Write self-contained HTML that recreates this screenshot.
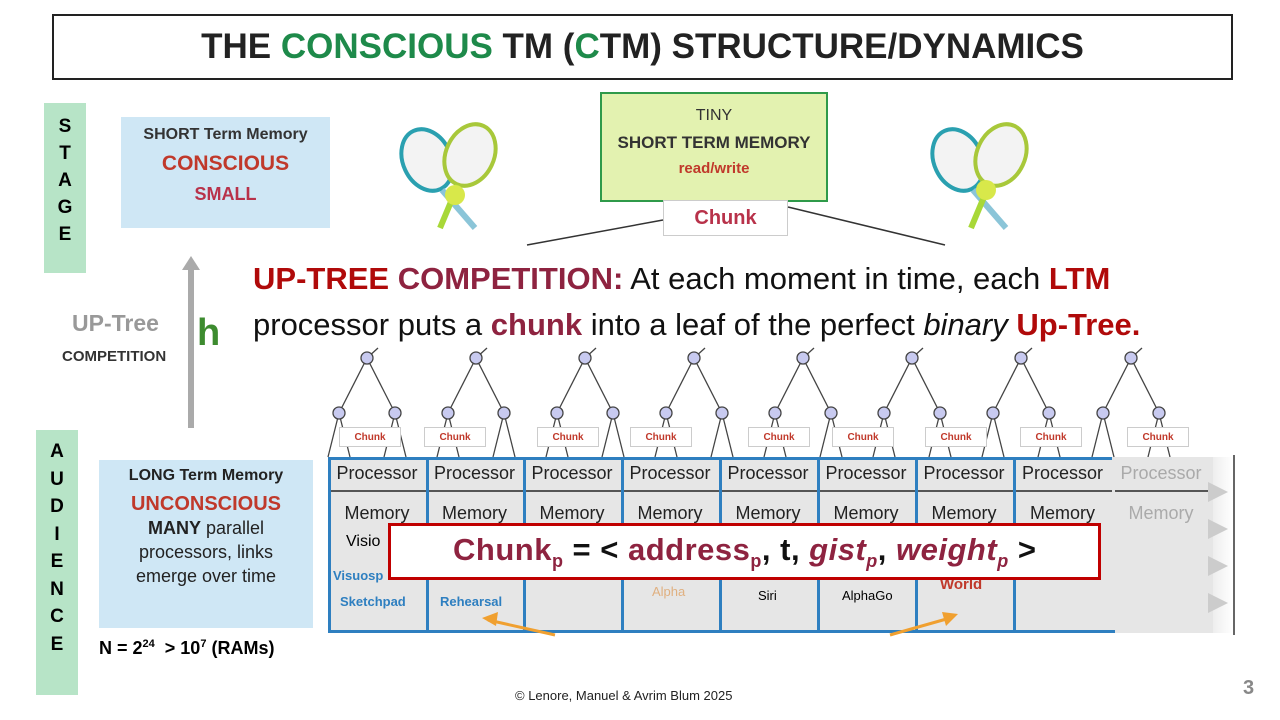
<!DOCTYPE html>
<html><head><meta charset="utf-8"><style>
*{margin:0;padding:0;box-sizing:border-box}
body{width:1280px;height:720px;background:#fff;position:relative;overflow:hidden;font-family:"Liberation Sans","DejaVu Sans",sans-serif}
.a{position:absolute}
.c{text-align:center}
.b{font-weight:bold}
.red{color:#c0392b}
.mar{color:#8e2340}
.dred{color:#b00a0a}
</style></head><body>
<div class="a c b" style="left:52px;top:14px;width:1181px;height:66px;border:2px solid #222;font-size:35px;line-height:62px;color:#222">THE <span style="color:#1e8a4a">CONSCIOUS</span> TM (<span style="color:#1e8a4a">C</span>TM) STRUCTURE/DYNAMICS</div>

<div class="a c b" style="left:44px;top:103px;width:42px;height:170px;background:#b7e4c7;font-size:19px;line-height:27px;padding-top:10px">S<br>T<br>A<br>G<br>E</div>
<div class="a c b" style="left:36px;top:430px;width:42px;height:265px;background:#b7e4c7;font-size:19px;line-height:27.5px;padding-top:8px">A<br>U<br>D<br>I<br>E<br>N<br>C<br>E</div>

<div class="a c b" style="left:121px;top:117px;width:209px;height:111px;background:#cfe7f5">
<div style="font-size:16px;color:#333;margin-top:9px">SHORT Term Memory</div>
<div class="red" style="font-size:21px;margin-top:8px">CONSCIOUS</div>
<div class="red" style="font-size:18px;margin-top:8px;color:#b8324a">SMALL</div></div>

<div class="a c" style="left:99px;top:460px;width:214px;height:168px;background:#cfe7f5;font-size:18px;color:#222;line-height:24px">
<div class="b" style="font-size:16px;margin-top:4px">LONG Term Memory</div>
<div class="b red" style="font-size:20px;margin-top:4px">UNCONSCIOUS</div>
<div><b>MANY</b> parallel</div><div>processors, links</div><div>emerge over time</div></div>
<div class="a b" style="left:99px;top:638px;font-size:18px">N = 2<sup style="font-size:11px">24</sup>&nbsp; &gt; 10<sup style="font-size:11px">7</sup> (RAMs)</div>

<div class="a b" style="left:72px;top:310px;font-size:23px;color:#999">UP-Tree</div>
<div class="a b" style="left:62px;top:348px;font-size:15px;color:#333">COMPETITION</div>
<div class="a" style="left:188px;top:268px;width:6px;height:160px;background:#aaa"></div>
<div class="a" style="left:182px;top:256px;width:0;height:0;border-left:9px solid transparent;border-right:9px solid transparent;border-bottom:14px solid #aaa"></div>
<div class="a b" style="left:197px;top:312px;font-size:38px;color:#3d8b2f">h</div>

<div class="a c" style="left:600px;top:92px;width:228px;height:110px;background:#e3f2b0;border:2px solid #2f9a4a;line-height:1">
<div style="font-size:16px;margin-top:14px;color:#333">TINY</div>
<div class="b" style="font-size:17px;margin-top:10px;color:#333">SHORT TERM MEMORY</div>
<div class="b red" style="font-size:15px;margin-top:10px">read/write</div></div>
<div class="a c b" style="left:663px;top:200px;width:125px;height:36px;background:#fff;border:1px solid #ccc;font-size:20px;line-height:34px;color:#b8324a">Chunk</div>

<svg class="a" style="left:0;top:0" width="1280" height="720">
<line x1="663" y1="220" x2="527" y2="245" stroke="#333" stroke-width="1.5"/>
<line x1="788" y1="207" x2="945" y2="245" stroke="#333" stroke-width="1.5"/>
<g stroke-width="4" fill="#f3f3f3">
<ellipse cx="427" cy="160" rx="24" ry="32" transform="rotate(-25 427 160)" stroke="#2aa0b0"/>
<ellipse cx="470" cy="155" rx="24" ry="32" transform="rotate(25 470 155)" stroke="#a8c83a"/>
<line x1="442" y1="190" x2="475" y2="228" stroke="#8bc5d8" stroke-width="6"/>
<line x1="458" y1="185" x2="440" y2="228" stroke="#a8d838" stroke-width="6"/>
<circle cx="455" cy="195" r="10" fill="#d8e84a" stroke="none"/>
<ellipse cx="958" cy="160" rx="24" ry="32" transform="rotate(-25 958 160)" stroke="#2aa0b0"/>
<ellipse cx="1001" cy="155" rx="24" ry="32" transform="rotate(25 1001 155)" stroke="#a8c83a"/>
<line x1="973" y1="190" x2="1006" y2="228" stroke="#8bc5d8" stroke-width="6"/>
<line x1="989" y1="185" x2="971" y2="228" stroke="#a8d838" stroke-width="6"/>
<circle cx="986" cy="190" r="10" fill="#d8e84a" stroke="none"/>
</g>
<g stroke="#444" stroke-width="1.3" fill="#c8caf0">
<g id="t">
<line x1="367" y1="358" x2="378" y2="348"/>
<line x1="367" y1="358" x2="339" y2="413"/><line x1="367" y1="358" x2="395" y2="413"/>
<line x1="339" y1="413" x2="328" y2="457"/><line x1="339" y1="413" x2="350" y2="457"/>
<line x1="395" y1="413" x2="384" y2="457"/><line x1="395" y1="413" x2="406" y2="457"/>
<circle cx="367" cy="358" r="6"/><circle cx="339" cy="413" r="6"/><circle cx="395" cy="413" r="6"/>
</g>
<use href="#t" x="109"/><use href="#t" x="218"/><use href="#t" x="327"/><use href="#t" x="436"/><use href="#t" x="545"/><use href="#t" x="654"/><use href="#t" x="764"/>
</g>
</svg>

<div class="a" style="left:253px;top:256px;font-size:31px;line-height:46px;color:#111;white-space:nowrap"><b class="dred">UP-TREE </b><b class="mar">COMPETITION:</b> At each moment in time, each <b class="dred">LTM</b><br>processor puts a <b class="mar">chunk</b> into a leaf of the perfect <i>binary</i> <b class="dred">Up-Tree.</b></div>

<div class="a" style="left:328px;top:457px;width:885px;height:176px;background:#e6e6e6"></div>
<div class="a" style="left:1213px;top:457px;width:20px;height:176px;background:linear-gradient(90deg,#eee,#fff)"></div>
<div class="a" style="left:1233px;top:455px;width:2px;height:180px;background:#666"></div>
<div id="cols"></div>
<div class="a" style="left:388px;top:523px;width:713px;height:57px;background:#fff;border:3px solid #c00000"></div>
<div class="a b" style="left:453px;top:532px;font-size:31px;color:#111;white-space:nowrap;letter-spacing:0.5px"><span class="mar">Chunk<sub style="font-size:18px">p</sub></span> = &lt; <span class="mar">address<sub style="font-size:18px">p</sub></span>, t, <i class="mar">gist<sub style="font-size:18px">p</sub></i>, <i class="mar">weight<sub style="font-size:18px">p</sub></i> &gt;</div>

<div class="a" style="left:515px;top:688px;font-size:13px;color:#222">© Lenore, Manuel &amp; Avrim Blum 2025</div>
<div class="a b" style="left:1243px;top:677px;font-size:20px;color:#888">3</div>
<script>
var xs=[328,426,523,621,719,817,915,1013,1112],h='';
var leafx=[339,424,537,630,748,832,925,1020,1127];
for(var i=0;i<9;i++){var x=xs[i],w=(i<8?xs[i+1]:1210)-x,f=i==8;
h+='<div class="a" style="left:'+leafx[i]+'px;top:427px;width:62px;height:20px;background:#fff;border:1px solid #ccc;font-size:10px;font-weight:bold;color:#c0392b;text-align:center;line-height:19px">Chunk</div>';
h+='<div class="a" style="left:'+x+'px;top:457px;width:'+w+'px;height:176px;border:'+(f?'0':'3px solid #2e7fc0')+';border-right:0"></div>';
h+='<div class="a" style="left:'+(x+3)+'px;top:490px;width:'+(w-3)+'px;height:2px;background:#555"></div>';
h+='<div class="a" style="left:'+x+'px;top:463px;width:'+w+'px;text-align:center;font-size:18px;color:'+(f?'#aaa':'#222')+'">Processor</div>';
h+='<div class="a" style="left:'+x+'px;top:503px;width:'+w+'px;text-align:center;font-size:18px;color:'+(f?'#aaa':'#222')+'">Memory</div>';}
h+='<div class="a" style="left:328px;top:630px;width:787px;height:3px;background:#2e7fc0"></div>';
h+='<div class="a" style="left:346px;top:533px;font-size:16px">Visio</div>';
h+='<div class="a b" style="left:333px;top:568px;font-size:13px;color:#2e7fc0">Visuosp</div>';
h+='<div class="a b" style="left:340px;top:594px;font-size:13px;color:#2e7fc0">Sketchpad</div>';
h+='<div class="a b" style="left:440px;top:594px;font-size:13px;color:#2e7fc0">Rehearsal</div>';
h+='<div class="a" style="left:652px;top:584px;font-size:13px;color:#e0b080">Alpha</div>';
h+='<div class="a" style="left:758px;top:588px;font-size:13px">Siri</div>';
h+='<div class="a" style="left:842px;top:588px;font-size:13px">AlphaGo</div>';
h+='<div class="a b" style="left:940px;top:576px;font-size:15px;color:#c0392b">World</div>';
for(var k=0;k<4;k++)h+='<div class="a" style="left:1208px;top:'+(482+k*37)+'px;border-top:10px solid transparent;border-bottom:10px solid transparent;border-left:20px solid #ccc"></div>';
h+='<svg class="a" style="left:470px;top:600px" width="500" height="40"><line x1="85" y1="35" x2="18" y2="20" stroke="#f0a030" stroke-width="3"/><polygon points="12,18 28,12 26,26" fill="#f0a030"/><line x1="420" y1="35" x2="480" y2="18" stroke="#f0a030" stroke-width="3"/><polygon points="488,14 472,12 476,26" fill="#f0a030"/></svg>';
document.getElementById('cols').innerHTML=h;
</script>
</body></html>
